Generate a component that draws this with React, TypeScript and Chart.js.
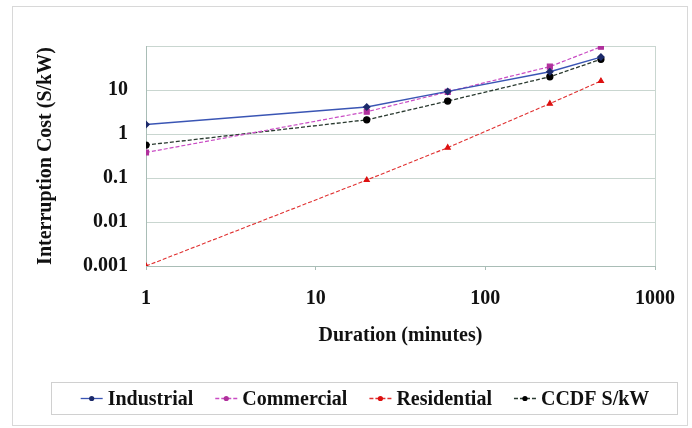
import React, { useEffect, useRef } from "react";
import { Chart, registerables } from "chart.js";

Chart.register(...registerables);

const durations = [1, 20, 60, 240, 480];
const industrial = [1.65, 4.1, 9.3, 26, 56];
const commercial = [0.38, 3.2, 9.1, 34, 96];
const residential = [0.001, 0.09, 0.49, 4.9, 16];
const ccdf = [0.56, 2.1, 5.6, 20, 50];

const seriesNames = ["Industrial", "Commercial", "Residential", "CCDF S/kW"];
const xTicks = [1, 10, 100, 1000];
const xTickLabels = ["1", "10", "100", "1000"];
const yTicks = [0.001, 0.01, 0.1, 1, 10, 100];
const yTickLabels = ["0.001", "0.01", "0.1", "1", "10", ""];

const FONT = "'Liberation Serif', 'Times New Roman', serif";
const GRID = "#c9d6d0";
const AXIS = "#a9bdb6";

const framePlugin = {
  id: "frameLegend",
  beforeDraw(chart: any) {
    const ctx = chart.ctx;
    ctx.save();
    ctx.fillStyle = "#ffffff";
    ctx.fillRect(0, 0, chart.width, chart.height);
    ctx.strokeStyle = "#d8d8d8";
    ctx.lineWidth = 1;
    ctx.strokeRect(12.5, 6.5, 675, 419);
    ctx.restore();
  },
  afterDraw(chart: any) {
    const ctx = chart.ctx;
    ctx.save();
    const bx = 51, by = 382, bw = 626, bh = 32;
    ctx.strokeStyle = "#d0d0d0";
    ctx.lineWidth = 1;
    ctx.strokeRect(bx + 0.5, by + 0.5, bw, bh);
    ctx.font = `bold 20px ${FONT}`;
    ctx.textBaseline = "middle";
    ctx.textAlign = "left";
    const ds = chart.data.datasets;
    const symW = 26, symGap = 3, gap = 20;
    const widths = ds.map((d: any) => symW + symGap + ctx.measureText(d.label).width);
    const total = widths.reduce((a: number, b: number) => a + b, 0) + gap * (ds.length - 1);
    let x = bx + bw / 2 - total / 2;
    const cy = by + bh / 2 + 0.5;
    ds.forEach((d: any, i: number) => {
      ctx.strokeStyle = d.borderColor;
      ctx.lineWidth = 1.3;
      ctx.setLineDash(d.borderDash || []);
      ctx.beginPath();
      ctx.moveTo(x + 2, cy);
      ctx.lineTo(x + symW - 2, cy);
      ctx.stroke();
      ctx.setLineDash([]);
      ctx.fillStyle = d.pointBackgroundColor;
      ctx.beginPath();
      ctx.arc(x + symW / 2, cy, 2.6, 0, Math.PI * 2);
      ctx.fill();
      ctx.fillStyle = "#111111";
      ctx.fillText(d.label, x + symW + symGap, cy + 1);
      x += widths[i] + gap;
    });
    ctx.restore();
  },
};

export default function App() {
  const ref = useRef<HTMLCanvasElement | null>(null);
  useEffect(() => {
    if (!ref.current) return;
    const mk = (vals: number[]) => durations.map((d, i) => ({ x: d, y: vals[i] }));
    const chart = new Chart(ref.current, {
      type: "line",
      data: {
        datasets: [
          {
            label: seriesNames[0],
            data: mk(industrial),
            borderColor: "#3a55b4",
            backgroundColor: "#1c2a6a",
            pointBackgroundColor: "#1c2a6a",
            pointBorderColor: "#1c2a6a",
            pointStyle: "rectRot",
            pointRadius: 3,
            borderWidth: 1.4,
          },
          {
            label: seriesNames[1],
            data: mk(commercial),
            borderColor: "#c94cc4",
            backgroundColor: "#b0309c",
            pointBackgroundColor: "#b0309c",
            pointBorderColor: "#b0309c",
            pointStyle: "rect",
            pointRadius: 3.5,
            borderWidth: 1.2,
            borderDash: [4, 2],
          },
          {
            label: seriesNames[2],
            data: mk(residential),
            borderColor: "#e03030",
            backgroundColor: "#dd1010",
            pointBackgroundColor: "#dd1010",
            pointBorderColor: "#dd1010",
            pointStyle: "triangle",
            pointRadius: 3,
            borderWidth: 1.1,
            borderDash: [4, 2],
          },
          {
            label: seriesNames[3],
            data: mk(ccdf),
            borderColor: "#2a3a30",
            backgroundColor: "#000000",
            pointBackgroundColor: "#000000",
            pointBorderColor: "#000000",
            pointStyle: "circle",
            pointRadius: 3,
            borderWidth: 1.3,
            borderDash: [4, 2],
          },
        ],
      },
      options: {
        animation: false,
        responsive: false,
        events: [],
        layout: { padding: { left: 0, top: 46, right: 35, bottom: 72 } },
        plugins: { legend: { display: false }, tooltip: { enabled: false } },
        scales: {
          x: {
            type: "logarithmic",
            min: 1,
            max: 1000,
            afterBuildTicks: (s: any) => {
              s.ticks = xTicks.map((v) => ({ value: v }));
            },
            afterFit: (s: any) => {
              s.height = 90;
            },
            ticks: {
              autoSkip: false,
              maxRotation: 0,
              padding: 17,
              color: "#111111",
              font: { family: FONT, size: 20, weight: "bold" },
              callback: (v: any) => {
                const i = xTicks.indexOf(Number(v));
                return i >= 0 ? xTickLabels[i] : "";
              },
            },
            grid: {
              drawTicks: true,
              tickLength: 4,
              tickColor: AXIS,
              color: (c: any) => (c.tick && c.tick.value === 1000 ? GRID : "transparent"),
            },
            border: { display: true, color: AXIS, width: 1 },
            title: {
              display: true,
              text: "Duration (minutes)",
              color: "#111111",
              font: { family: FONT, size: 20, weight: "bold" },
              padding: { top: 0, bottom: 8 },
            },
          },
          y: {
            type: "logarithmic",
            min: 0.001,
            max: 100,
            afterBuildTicks: (s: any) => {
              s.ticks = yTicks.map((v) => ({ value: v }));
            },
            afterFit: (s: any) => {
              s.width = 146;
            },
            ticks: {
              autoSkip: false,
              padding: 18,
              color: "#111111",
              font: { family: FONT, size: 20, weight: "bold" },
              callback: (v: any) => {
                const i = yTicks.findIndex((t) => Math.abs(t - Number(v)) < t * 1e-6);
                return i >= 0 ? yTickLabels[i] : "";
              },
            },
            grid: { drawTicks: false, color: GRID },
            border: { display: true, color: AXIS, width: 1 },
            title: {
              display: true,
              text: "Interruption Cost (S/kW)",
              color: "#111111",
              font: { family: FONT, size: 20, weight: "bold" },
              padding: { top: 34, bottom: 0 },
            },
          },
        },
      },
      plugins: [framePlugin],
    } as any);
    return () => chart.destroy();
  }, []);
  return (
    <div style={{ position: "fixed", left: 0, top: 0, width: 692, height: 428 }}>
      <canvas ref={ref} width={692} height={428} style={{ display: "block", width: 692, height: 428 }} />
    </div>
  );
}
